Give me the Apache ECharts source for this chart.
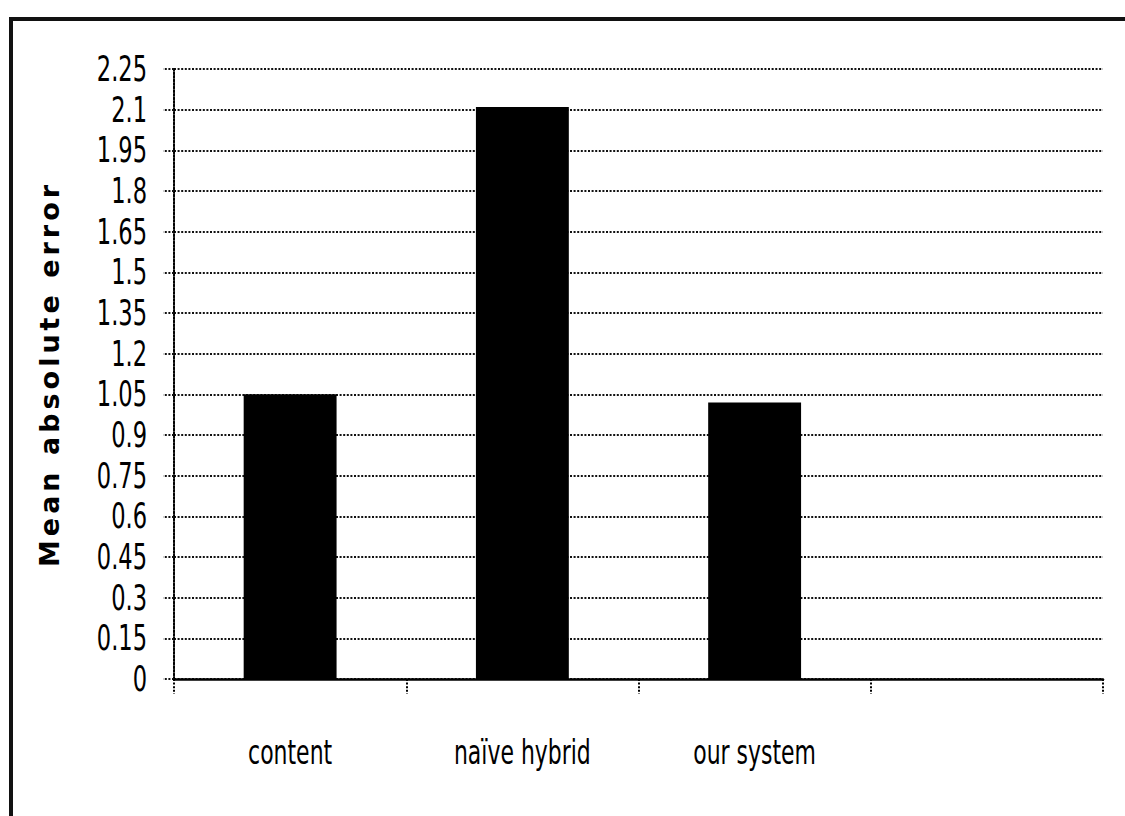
<!DOCTYPE html>
<html>
<head>
<meta charset="utf-8">
<script src="https://cdn.jsdelivr.net/npm/echarts@6/dist/echarts.min.js"></script>
<style>
  html, body { margin: 0; padding: 0; background: #fff; overflow: hidden; }
  #frame {
    position: absolute; left: 9px; top: 17px; width: 1300px; height: 1000px;
    border-left: 4px solid #111; border-top: 4px solid #111;
  }
  #chart { position: absolute; left: 0; top: 0; width: 1125px; height: 816px; }
</style>
</head>
<body>
<div id="frame"></div>
<div id="chart"></div>
<script>
// Mean absolute error per approach; the fourth slot on the axis is left empty.
const categories = ['content', 'naïve hybrid', 'our system', ''];
const maeValues = [1.05, 2.11, 1.02, null];
const yTicks = { min: 0, max: 2.25, interval: 0.15 };
const yTitle = 'Mean absolute error';

const narrow = '"Liberation Sans Narrow", "DejaVu Sans Condensed", "Arial Narrow", sans-serif';
const dotted = [2, 1.6];
const fmt = v => String(Math.round(v * 100) / 100);

const chart = echarts.init(document.getElementById('chart'), null, { renderer: 'svg' });
chart.setOption({
  animation: false,
  backgroundColor: 'transparent',
  grid: { left: 174, right: 22, top: 69, bottom: 137, containLabel: false },
  xAxis: {
    type: 'category',
    data: categories,
    boundaryGap: true,
    axisLine: { show: true, lineStyle: { color: '#000', width: 2.5 } },
    axisTick: { show: true, inside: false, length: 15, alignWithLabel: false,
                lineStyle: { color: '#000', width: 2, type: dotted } },
    axisLabel: { color: '#000', fontFamily: narrow, fontSize: 33,
                 margin: 74, verticalAlign: 'middle', interval: 0 },
    splitLine: { show: false }
  },
  yAxis: {
    type: 'value',
    min: yTicks.min, max: yTicks.max, interval: yTicks.interval,
    name: yTitle,
    nameLocation: 'middle',
    nameRotate: 90,
    nameGap: 111,
    nameTextStyle: { color: '#000', fontFamily: '"DejaVu Sans", Verdana, sans-serif',
                     fontWeight: 'bold', fontSize: 27 },
    axisLine: { show: true, lineStyle: { color: '#000', width: 2, type: dotted } },
    axisTick: { show: true, length: 11, lineStyle: { color: '#111', width: 1.8, type: dotted } },
    axisLabel: { color: '#000', fontFamily: narrow, fontSize: 33, margin: 27, formatter: fmt },
    splitLine: { show: true, lineStyle: { color: '#111', width: 1.8, type: dotted } }
  },
  series: [{
    type: 'bar',
    data: maeValues,
    barWidth: '40%',
    itemStyle: { color: '#000' }
  }]
});

// Squeeze the label glyphs horizontally (tall, narrow lettering) and space out the axis title.
function styleTexts() {
  const tickSet = new Set();
  for (let v = yTicks.min; v <= yTicks.max + 1e-9; v += yTicks.interval) tickSet.add(fmt(v));
  const catSet = new Set(categories.filter(c => c));
  document.querySelectorAll('#chart svg text').forEach(el => {
    const t = el.textContent;
    let sx = 1, sy = 1;
    if (t === yTitle) {
      el.style.letterSpacing = '4px';
      return;
    }
    if (tickSet.has(t)) { sx = 0.76; sy = 1.05; }
    else if (catSet.has(t)) { sx = 0.74; sy = 1.0; }
    else return;
    if (el.dataset.squeezed) return;
    el.dataset.squeezed = '1';
    const x = parseFloat(el.getAttribute('x') || 0);
    const y = parseFloat(el.getAttribute('y') || 0);
    const old = el.getAttribute('transform') || '';
    el.setAttribute('transform',
      `${old} translate(${x} ${y}) scale(${sx} ${sy}) translate(${-x} ${-y})`.trim());
  });
}
chart.on('finished', styleTexts);
styleTexts();
</script>
</body>
</html>
